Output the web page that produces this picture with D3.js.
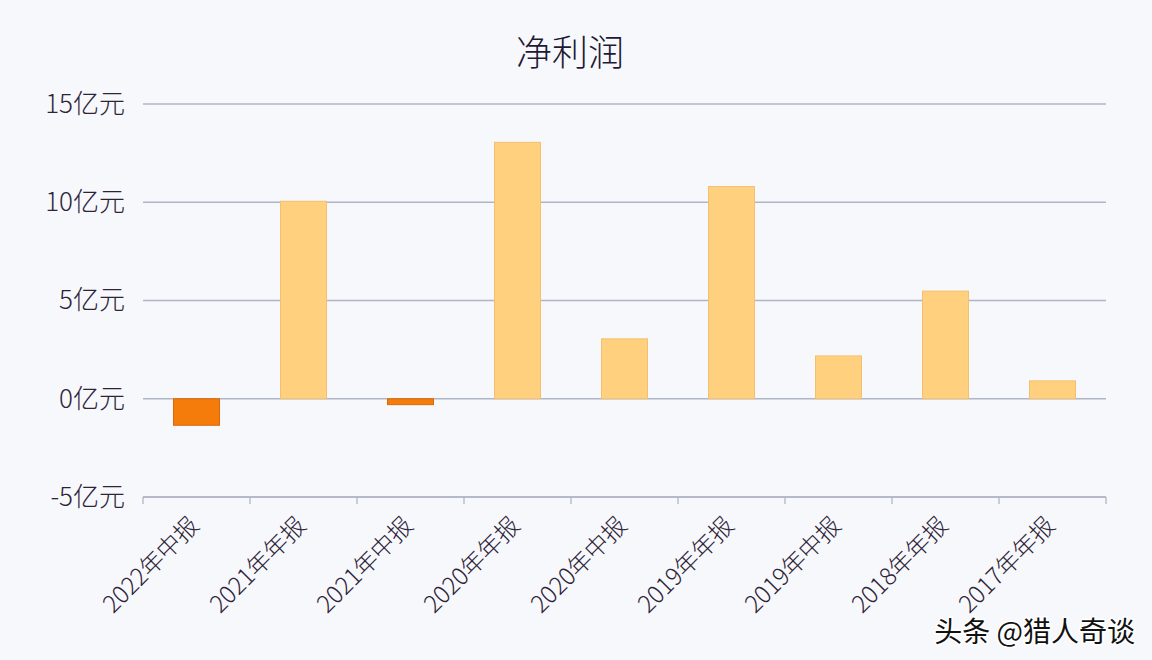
<!DOCTYPE html>
<html><head><meta charset="utf-8">
<script src="https://cdn.jsdelivr.net/npm/d3@7"></script>
<style>
html,body{margin:0;padding:0;background:#f7f8fc;}
svg{display:block;font-family:"Noto Sans CJK SC","Noto Sans",sans-serif;font-weight:300;}
</style></head><body>
<svg id="c" width="1152" height="660"></svg>
<script>
const categories = ["2022年中报","2021年年报","2021年中报","2020年年报","2020年中报","2019年年报","2019年中报","2018年年报","2017年年报"];
const values = [-1.35, 10.05, -0.3, 13.05, 3.05, 10.8, 2.18, 5.48, 0.91];
const yTicks = [-5, 0, 5, 10, 15];
const title = "净利润";
const unit = "亿元";
const watermark = "头条 @猎人奇谈";

(function(){
const svg = d3.select("#c");
svg.append("rect").attr("width",1152).attr("height",660).attr("fill","#f7f8fc");

const pL = 143, pR = 1106, pT = 104, pB = 497;
const x = d3.scaleBand().domain(categories).range([pL, pR]).paddingInner(0.57).paddingOuter(0.285);
const y = d3.scaleLinear().domain([-5, 15]).range([pB, pT]);

// gridlines
svg.append("g").selectAll("line").data(yTicks).join("line")
  .attr("x1", pL).attr("x2", pR)
  .attr("y1", d => y(d)).attr("y2", d => y(d))
  .attr("stroke", "#b0b5c6").attr("stroke-width", 1.3);

// y axis labels
const yAxis = d3.axisLeft(y).tickValues(yTicks).tickSize(0).tickPadding(18).tickFormat(d => d + unit);
const ya = svg.append("g").attr("transform", `translate(${pL},0)`).call(yAxis);
ya.select(".domain").remove();
ya.selectAll("text").attr("font-size", 26).attr("fill", "#2e2438")
  .attr("font-family","\"Noto Sans CJK SC\",sans-serif").attr("font-weight", 300);

// x axis
const xa = svg.append("g").attr("transform", `translate(0,${y(-5)})`);
xa.append("line").attr("x1", pL).attr("x2", pR).attr("stroke", "#b0b5c6").attr("stroke-width", 1.3);
const tickPos = d3.range(categories.length + 1).map(i => pL + i * (pR - pL) / categories.length);
xa.selectAll("line.t").data(tickPos).join("line").attr("class","t")
  .attr("x1", d => d).attr("x2", d => d).attr("y1", 0).attr("y2", 7)
  .attr("stroke", "#b0b5c6").attr("stroke-width", 1.3);
xa.selectAll("text").data(categories).join("text")
  .attr("transform", d => `translate(${x(d) + x.bandwidth()/2 + 4},${30}) rotate(-45)`)
  .attr("text-anchor", "end")
  .attr("font-size", 24).attr("fill", "#2e2438")
  .text(d => d);

// bars
svg.append("g").selectAll("rect").data(categories).join("rect")
  .attr("x", d => x(d))
  .attr("width", x.bandwidth())
  .attr("y", (d,i) => y(Math.max(0, values[i])))
  .attr("height", (d,i) => Math.abs(y(values[i]) - y(0)))
  .attr("fill", (d,i) => values[i] < 0 ? "#f57c0a" : "#ffd07e")
  .attr("stroke", (d,i) => values[i] < 0 ? "#d9690a" : "#f4c070")
  .attr("stroke-width", 1);

// title
svg.append("text").attr("x", 570).attr("y", 66).attr("text-anchor", "middle")
  .attr("font-size", 36).attr("fill", "#1f1a33").text(title);

// watermark
svg.append("text").attr("x", 1135).attr("y", 642).attr("text-anchor", "end")
  .attr("font-size", 28).attr("fill", "#111").attr("font-weight", 400)
  .attr("stroke", "#ffffff").attr("stroke-width", 3).attr("paint-order", "stroke")
  .text(watermark);
})();
</script>
</body></html>
